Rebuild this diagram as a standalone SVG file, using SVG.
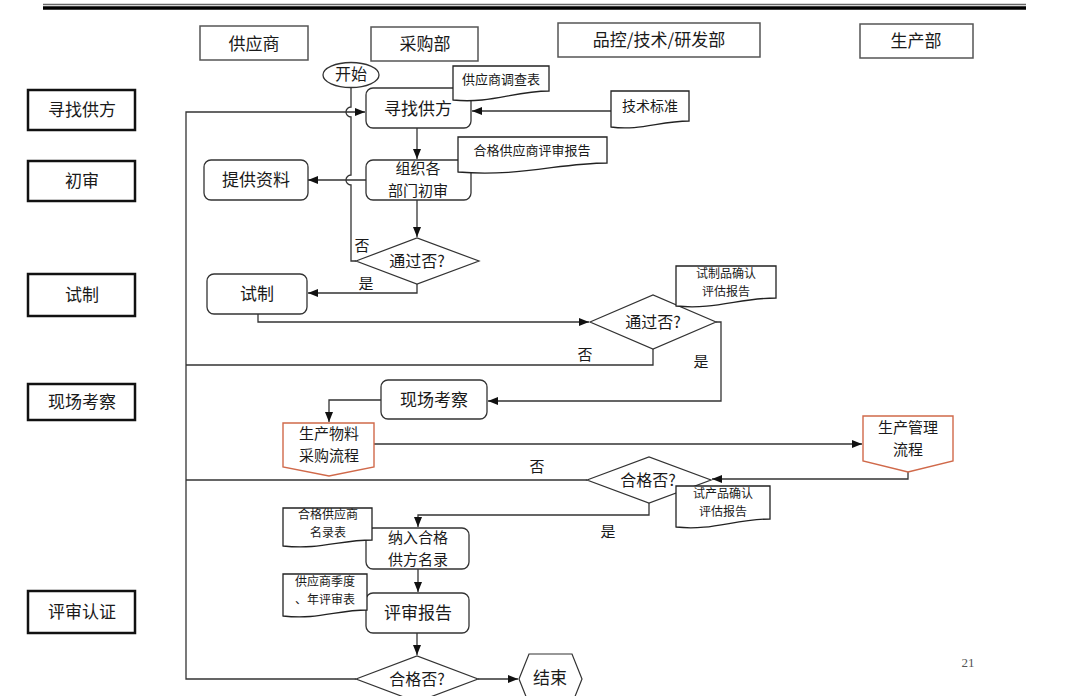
<svg xmlns="http://www.w3.org/2000/svg" width="1080" height="696" viewBox="0 0 1080 696">
<style>
text{font-family:"Noto Sans CJK SC","Liberation Sans",sans-serif;fill:#1a1a1a;text-anchor:middle}
.hdr{fill:#fff;stroke:#555;stroke-width:1.5}
.hdrt{font-size:17px}
.lbl{fill:#fff;stroke:#111;stroke-width:2.5}
.lblt{font-size:17px}
.proc{fill:#fff;stroke:#333;stroke-width:1.3}
.pt{font-size:17px}
.pt2{font-size:15px}
.doc{fill:#fff;stroke:#222;stroke-width:1.3}
.dt{font-size:13px}
.dt2{font-size:12px}
.off{fill:#fff;stroke:#d0694a;stroke-width:1.4}
.dia{fill:#fff;stroke:#333;stroke-width:1.2}
.dit{font-size:16px}
.con{fill:none;stroke:#333;stroke-width:1.3}
.arr{marker-end:url(#ah)}
.yn{font-size:15px}
</style>
<defs>
<marker id="ah" markerUnits="userSpaceOnUse" markerWidth="10" markerHeight="8" refX="10" refY="4" orient="auto">
<path d="M0,0 L10,4 L0,8 z" fill="#111"/>
</marker>
</defs>
<rect width="1080" height="696" fill="#fff"/>
<g id="toprule">
<line x1="43" y1="4.5" x2="1026" y2="4.5" stroke="#666" stroke-width="1.5"/>
<line x1="43" y1="8" x2="1026" y2="8" stroke="#000" stroke-width="3.5"/>
</g>
<g id="hdr-supplier"><rect class="hdr" x="200" y="26" width="108" height="34"/><text class="hdrt" x="254" y="44" dy="0.35em">供应商</text></g>
<g id="hdr-purchase"><rect class="hdr" x="371" y="27" width="107" height="34"/><text class="hdrt" x="425" y="44" dy="0.35em">采购部</text></g>
<g id="hdr-qc"><rect class="hdr" x="558" y="23" width="202" height="34"/><text class="hdrt" x="659" y="40" dy="0.35em">品控/技术/研发部</text></g>
<g id="hdr-prod"><rect class="hdr" x="860" y="24" width="113" height="34"/><text class="hdrt" x="916" y="41" dy="0.35em">生产部</text></g>
<g id="lbl-1"><rect class="lbl" x="28" y="90" width="107" height="40"/><text class="lblt" x="82" y="110" dy="0.35em">寻找供方</text></g>
<g id="lbl-2"><rect class="lbl" x="28" y="161" width="107" height="40"/><text class="lblt" x="82" y="181" dy="0.35em">初审</text></g>
<g id="lbl-3"><rect class="lbl" x="28" y="274" width="107" height="42"/><text class="lblt" x="82" y="295" dy="0.35em">试制</text></g>
<g id="lbl-4"><rect class="lbl" x="28" y="384" width="107" height="36"/><text class="lblt" x="82" y="402" dy="0.35em">现场考察</text></g>
<g id="lbl-5"><rect class="lbl" x="28" y="591" width="107" height="42"/><text class="lblt" x="82" y="612" dy="0.35em">评审认证</text></g>
<g id="connectors">
<path class="con arr" d="M356,679 H186 V112 H365"/>
<path class="con" d="M653,349 V365 H186"/>
<path class="con" d="M587,480 H186"/>
<path class="con arr" d="M611,111 H472"/>
<path class="con" d="M351,87 V107 A5,5 0 0 0 351,117 V175 A5,5 0 0 0 351,185 V261 H356"/>
<path class="con arr" d="M417,128 V159"/>
<path class="con arr" d="M366,180 H308"/>
<path class="con arr" d="M417,200 V237"/>
<path class="con arr" d="M417,284 V293 H308"/>
<path class="con arr" d="M258,314 V322 H589"/>
<path class="con arr" d="M716,322 H721 V401 H488"/>
<path class="con arr" d="M381,400 H329 V422"/>
<path class="con arr" d="M374,444 H862"/>
<path class="con arr" d="M908,472 V479 H712"/>
<path class="con arr" d="M649,503 V515 H418 V527"/>
<path class="con arr" d="M418,569 V592"/>
<path class="con arr" d="M417,633 V655"/>
<path class="con arr" d="M478,679 H518"/>
<text class="yn" x="362" y="246" dy="0.35em">否</text>
<text class="yn" x="366" y="284" dy="0.35em">是</text>
<text class="yn" x="585" y="355" dy="0.35em">否</text>
<text class="yn" x="701" y="362" dy="0.35em">是</text>
<text class="yn" x="537" y="467" dy="0.35em">否</text>
<text class="yn" x="608" y="532" dy="0.35em">是</text>
</g>
<g id="start"><ellipse cx="351" cy="75" rx="28" ry="12.5" fill="#fff" stroke="#333" stroke-width="1.3"/><text x="351" y="74" dy="0.35em" style="font-size:16px">开始</text></g>
<g id="find"><rect class="proc" x="366" y="88" width="105" height="40" rx="7"/><text class="pt" x="418" y="109" dy="0.35em">寻找供方</text></g>
<g id="doc-survey"><path class="doc" d="M453,66 H549 V91 C515,91 490,104 453,100 Z"/><text class="dt" x="501" y="79" dy="0.35em">供应商调查表</text></g>
<g id="doc-tech"><path class="doc" d="M611,91 H689 V121 C660,121 640,131 611,127 Z"/><text class="dt" x="650" y="106" dy="0.35em" style="font-size:14px">技术标准</text></g>
<g id="review"><rect class="proc" x="366" y="160" width="105" height="40" rx="7"/><text class="pt2" x="418" y="169" dy="0.35em">组织各<tspan x="418" dy="22">部门初审</tspan></text></g>
<g id="doc-report"><path class="doc" d="M458,137 H607 V163 C560,163 520,177 458,172 Z"/><text class="dt" x="532" y="150" dy="0.35em">合格供应商评审报告</text></g>
<g id="provide"><rect class="proc" x="204" y="160" width="104" height="40" rx="7"/><text class="pt" x="256" y="180" dy="0.35em">提供资料</text></g>
<g id="d1"><polygon class="dia" points="356,261 417,238 479,261 417,284"/><text class="dit" x="417" y="261" dy="0.35em">通过否?</text></g>
<g id="trial"><rect class="proc" x="207" y="274" width="100" height="40" rx="7"/><text class="pt" x="257" y="294" dy="0.35em">试制</text></g>
<g id="d2"><polygon class="dia" points="590,322 653,295 716,322 653,349"/><text class="dit" x="653" y="322" dy="0.35em">通过否?</text></g>
<g id="doc-trial"><path class="doc" d="M676,266 H776 V298 C740,298 715,310 676,306 Z"/><text class="dt2" x="726" y="274" dy="0.35em">试制品确认<tspan x="726" dy="17.6">评估报告</tspan></text></g>
<g id="visit"><rect class="proc" x="381" y="380" width="106" height="39" rx="7"/><text class="pt" x="434" y="400" dy="0.35em">现场考察</text></g>
<g id="material"><path class="off" d="M283,423 H374 V467 L329,476 L283,467 Z"/><text class="pt2" x="329" y="434" dy="0.35em">生产物料<tspan x="329" dy="22">采购流程</tspan></text></g>
<g id="prodmgmt"><path class="off" d="M863,416 H953 V461 L908,472 L863,461 Z"/><text class="pt2" x="908" y="428" dy="0.35em">生产管理<tspan x="908" dy="22">流程</tspan></text></g>
<g id="d3"><polygon class="dia" points="587,480 649,457 711,480 649,503"/><text class="dit" x="648" y="480" dy="0.35em">合格否?</text></g>
<g id="doc-prodtrial"><path class="doc" d="M676,486 H770 V519 C735,519 712,531 676,527 Z"/><text class="dt2" x="723" y="494" dy="0.35em">试产品确认<tspan x="723" dy="17.6">评估报告</tspan></text></g>
<g id="include"><rect class="proc" x="366" y="528" width="103" height="41" rx="7"/><text class="pt2" x="418" y="537.5" dy="0.35em">纳入合格<tspan x="418" dy="22">供方名录</tspan></text></g>
<g id="doc-list"><path class="doc" d="M283,508 H372 V540 C340,540 320,550 283,546 Z"/><text class="dt2" x="328" y="515" dy="0.35em">合格供应商<tspan x="328" dy="17.6">名录表</tspan></text></g>
<g id="evalrep"><rect class="proc" x="366" y="593" width="103" height="40" rx="7"/><text class="pt" x="418" y="613" dy="0.35em">评审报告</text></g>
<g id="doc-quarter"><path class="doc" d="M283,574 H367 V610 C337,610 318,620 283,616 Z"/><text class="dt2" x="325" y="582" dy="0.35em">供应商季度<tspan x="325" dy="17.6">、年评审表</tspan></text></g>
<g id="d4"><polygon class="dia" points="356,679 417,656 478,679 417,702"/><text class="dit" x="417" y="679" dy="0.35em">合格否?</text></g>
<g id="end"><polygon class="dia" points="519,679 529,654 572,654 582,679 572,704 529,704"/><text class="dit" x="550" y="678" dy="0.35em" style="font-size:17px">结束</text></g>
<g id="pagenum"><text x="968" y="662" dy="0.35em" style="font-family:'Liberation Serif',serif;font-size:13px;fill:#555">21</text></g>
</svg>
